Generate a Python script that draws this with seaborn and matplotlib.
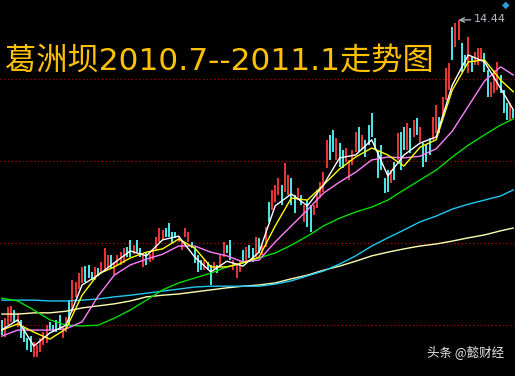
import numpy as np
import pandas as pd
import matplotlib
matplotlib.use('Agg')
import matplotlib.pyplot as plt
import seaborn as sns

# candle data (price), one entry per trading day
highs = [7.13, 7.17, 7.44, 7.47, 7.37, 7.30, 7.13, 6.93, 6.69, 6.74, 6.59, 6.52, 6.69, 6.83, 7.00, 7.08, 7.00, 7.13, 7.25, 6.98,
         7.20, 7.61, 8.10, 8.05, 8.27, 8.42, 8.44, 8.47, 8.30, 8.42, 8.39, 8.54, 8.88, 8.71, 8.71, 8.54, 8.71, 8.78, 8.88, 8.91,
         9.08, 8.96, 9.08, 8.88, 8.71, 8.78, 8.73, 8.83, 9.15, 9.37, 9.32, 9.37, 9.49, 9.27, 9.27, 9.17, 9.08, 9.37, 9.27, 9.03,
         8.91, 8.71, 8.59, 8.59, 8.54, 8.47, 8.54, 8.47, 8.71, 9.03, 8.96, 9.08, 8.59, 8.52, 8.59, 8.83, 8.91, 8.96, 8.88, 9.15,
         9.13, 8.96, 9.39, 10.00, 10.30, 10.42, 10.59, 10.42, 10.95, 10.66, 10.59, 10.17, 10.34, 10.17, 9.93, 10.05, 9.93, 9.93, 10.30, 10.49,
         10.73, 11.52, 11.64, 11.76, 11.56, 11.44, 11.27, 11.32, 11.03, 11.27, 11.71, 11.83, 11.64, 11.52, 11.88, 12.17, 11.56, 11.27, 11.39, 10.59,
         10.78, 10.78, 10.98, 11.69, 11.71, 11.83, 11.93, 11.81, 12.00, 12.05, 11.83, 11.44, 11.39, 11.56, 12.08, 12.37, 12.08, 12.56, 13.27, 13.40,
         14.27, 14.37, 14.44, 13.88, 13.59, 14.03, 13.54, 13.66, 13.76, 13.76, 13.64, 13.22, 12.93, 13.22, 13.42, 13.10, 12.73, 12.42, 12.42, 12.25]
lows = [6.76, 6.71, 7.00, 7.08, 7.05, 6.95, 6.69, 6.59, 6.40, 6.35, 6.22, 6.22, 6.35, 6.52, 6.56, 6.88, 6.83, 6.83, 6.88, 6.69,
        6.83, 7.00, 7.32, 7.69, 7.88, 8.03, 8.05, 8.15, 8.10, 8.10, 8.20, 8.27, 8.30, 8.39, 8.39, 8.22, 8.47, 8.47, 8.52, 8.66,
        8.66, 8.73, 8.78, 8.66, 8.42, 8.47, 8.54, 8.59, 8.83, 9.03, 9.08, 9.15, 9.15, 9.00, 9.13, 9.03, 8.83, 9.15, 9.03, 8.88,
        8.52, 8.30, 8.34, 8.34, 8.34, 7.98, 8.34, 8.27, 8.42, 8.66, 8.76, 8.59, 8.34, 8.15, 8.30, 8.54, 8.52, 8.64, 8.54, 8.66,
        8.76, 8.71, 8.91, 9.52, 9.81, 10.00, 10.17, 9.93, 10.25, 10.17, 9.93, 9.73, 10.05, 9.93, 9.52, 9.39, 9.27, 9.69, 9.86, 10.10,
        10.25, 10.83, 11.03, 11.22, 11.03, 10.86, 10.83, 10.98, 10.54, 10.90, 11.22, 11.22, 11.27, 11.10, 11.39, 11.59, 11.27, 10.59, 10.78, 10.22,
        10.25, 10.47, 10.54, 11.03, 10.78, 11.27, 11.27, 11.20, 11.59, 11.64, 11.47, 10.86, 10.98, 11.15, 11.52, 11.69, 11.69, 12.12, 12.49, 12.73,
        13.47, 13.78, 13.95, 13.17, 13.30, 13.15, 13.17, 13.34, 13.34, 13.47, 13.17, 12.56, 12.56, 12.66, 12.73, 12.66, 12.17, 12.00, 12.00, 12.05]
# r = up day, c = down day
updown = ("crrrcrccccrrrrrccccrrcrrrrcccrcrrrcrrrrc"
          "crccrcrrrrrccccrrrrccccrccrcrrccrrrcrccr"
          "crrcrrrcrrccrcrccrrrrrccrccrrrrcrccccccc"
          "crcrccrcrcrcccrrcrrrcrrccrcrrrccrrrcccrc")

# moving averages read every 5th day
ma_days = list(range(0, 160, 5)) + [159]
ma5 = [6.88, 7.13, 6.49, 6.81, 7.00, 7.98, 8.22, 8.52, 8.81, 8.69, 9.08, 9.17, 8.66, 8.30, 8.56, 8.44, 8.78,
       9.91, 10.20, 9.91, 10.42, 11.08, 11.15, 11.52, 10.64, 11.15, 11.44, 11.59, 12.85, 13.59, 13.42, 12.78, 12.25]
ma10 = [6.88, 7.03, 6.83, 6.66, 6.91, 7.73, 8.25, 8.42, 8.64, 8.78, 8.86, 9.10, 8.88, 8.42, 8.42, 8.52, 8.66,
        9.42, 10.10, 10.05, 10.42, 10.81, 11.10, 11.32, 11.15, 10.88, 11.34, 11.52, 12.73, 13.42, 13.47, 12.98, 12.69]
ma20 = [6.73, 6.88, 6.88, 6.88, 6.91, 7.08, 7.71, 8.22, 8.47, 8.61, 8.73, 8.93, 8.93, 8.78, 8.69, 8.54, 8.59,
        9.03, 9.42, 9.81, 10.22, 10.49, 10.73, 11.03, 11.10, 11.08, 11.12, 11.30, 11.73, 12.34, 12.95, 13.30, 13.10]
ma60 = [7.66, 7.59, 7.37, 7.13, 7.00, 6.98, 7.00, 7.17, 7.37, 7.61, 7.86, 8.03, 8.15, 8.27, 8.42, 8.52, 8.64,
        8.76, 8.95, 9.17, 9.42, 9.61, 9.76, 9.88, 10.05, 10.30, 10.54, 10.78, 11.10, 11.39, 11.64, 11.88, 12.03]
ma120 = [7.61, 7.61, 7.61, 7.59, 7.59, 7.61, 7.64, 7.69, 7.73, 7.78, 7.83, 7.88, 7.93, 7.95, 7.95, 7.95, 7.95,
         8.00, 8.08, 8.20, 8.32, 8.49, 8.69, 8.93, 9.13, 9.32, 9.52, 9.66, 9.83, 9.95, 10.05, 10.15, 10.30]
ma250 = [7.27, 7.27, 7.30, 7.30, 7.34, 7.42, 7.47, 7.52, 7.59, 7.69, 7.73, 7.76, 7.81, 7.86, 7.91, 7.95, 7.98,
         8.03, 8.13, 8.22, 8.34, 8.44, 8.56, 8.69, 8.78, 8.86, 8.93, 8.98, 9.05, 9.13, 9.20, 9.30, 9.37]

grid_levels = [7, 9, 11, 13]
peak_price = 14.44
title = "葛洲坝2010.7--2011.1走势图"

sns.set_style("dark", {"axes.facecolor": "black", "figure.facecolor": "black"})
plt.rcParams['font.family'] = ['Noto Sans CJK SC', 'DejaVu Sans']

fig = plt.figure(figsize=(5.15, 3.76), dpi=100)
ax = fig.add_axes([0, 0, 1, 1])
ax.set_facecolor("black")

for lvl in grid_levels:
    ax.axhline(lvl, color="#a80000", linestyle=(0, (1, 2)), linewidth=0.9, zorder=1)

days = np.arange(len(highs))
colors = ["#ff3a3a" if c == "r" else "#54fcfc" for c in updown]
ax.vlines(days, lows, highs, colors=colors, linewidth=1.3, zorder=2)

ma_df = pd.DataFrame({"day": ma_days, "MA250": ma250, "MA120": ma120, "MA60": ma60,
                      "MA20": ma20, "MA10": ma10, "MA5": ma5})
ma_colors = {"MA250": "#ffffb4", "MA120": "#1ec8f0", "MA60": "#00dc00",
             "MA20": "#ff80ff", "MA10": "#ffff00", "MA5": "#ffffff"}
for name, col in ma_colors.items():
    sns.lineplot(data=ma_df, x="day", y=name, color=col, linewidth=1.0, ax=ax, zorder=3)

ax.set_xlim(-0.5, 159.5)
ax.set_ylim(5.76, 14.93)
ax.set_axis_off()

# peak marker
peak_day = int(np.argmax(highs))
ax.annotate("14.44", xy=(peak_day, peak_price), xytext=(11, 0.5), textcoords="offset points",
            color="#b4bccc", fontsize=8, va="center", ha="left", family="DejaVu Sans",
            arrowprops=dict(arrowstyle="->", color="#b4bccc", lw=0.9, shrinkA=0, shrinkB=0))

fig.text(5 / 515, 1 - 62 / 376, title, color="#ffc000", fontsize=22.5, va="center", ha="left",
         family=["DejaVu Sans", "Noto Sans CJK SC"])
fig.text(506 / 515, 1 - 5 / 376, "◆", color="#2e9fd6", fontsize=7, ha="center", va="center",
         family="DejaVu Sans")
fig.text(504 / 515, 1 - 352 / 376, "头条 @懿财经", color="#e8e8e8", fontsize=9, ha="right", va="center")

fig.savefig("out.png", dpi=100, facecolor="black")
